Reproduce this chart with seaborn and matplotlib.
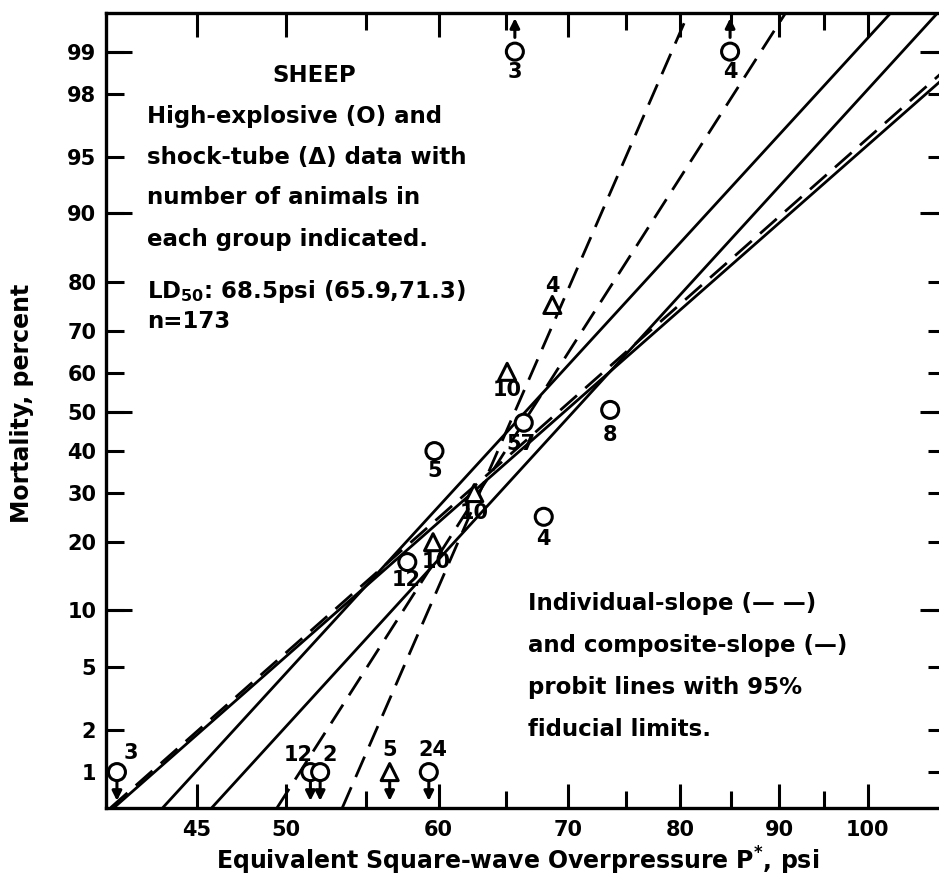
import math
import numpy as np
import pandas as pd
import matplotlib
matplotlib.use('Agg')
import matplotlib.pyplot as plt
import seaborn as sns
from matplotlib.ticker import FixedLocator, NullFormatter

# === Data ===
# high-explosive (circles)
he_psi = [40.9, 51.5, 52.1, 59.3, 65.7, 84.9, 66.4, 59.7, 73.6, 68.0, 57.8]
he_pct = [1, 1, 1, 1, 99, 99, 47.2, 40, 50.5, 24.9, 16.6]
he_n = ['3', '12', '2', '24', '3', '4', '57', '5', '8', '4', '12']

# shock-tube (triangles)
st_psi = [56.6, 65.1, 62.6, 59.6, 68.7]
st_pct = [1, 60.2, 30, 20, 75.5]
st_n = ['5', '10', '10', '10', '4']

# individual-slope probit line and limits (dashed)
ind_a_psi, ind_a_pct = [53.5, 80.8], [0.53, 99.5]
ind_b_psi, ind_b_pct = [49.5, 90.7], [0.53, 99.5]
ind_c_psi, ind_c_pct = [40.6, 109.0], [0.53, 98.53]

# composite-slope probit line and limits (solid)
comp_a_psi, comp_a_pct = [43.2, 102.8], [0.53, 99.5]
comp_b_psi, comp_b_pct = [45.8, 108.7], [0.53, 99.5]
comp_c_psi, comp_c_pct = [40.76, 109.0], [0.53, 98.35]

y_ticks = [1, 2, 5, 10, 20, 30, 40, 50, 60, 70, 80, 90, 95, 98, 99]
y_long = [10, 50, 90, 99]
x_ticks = [45, 50, 60, 70, 80, 90, 100]
x_minor = [55, 65, 75, 85, 95]

# label offsets (points)
he_off = [(10, 14), (-9, 12), (7, 12), (3, 16), (0, -15), (0, -15),
          (-2, -15), (0, -14), (0, -18), (0, -16), (-1, -13)]
st_off = [(0, 16), (0, -13), (0, -14), (2, -14), (0, 14)]


# === probit scale helpers ===
_a = [-3.969683028665376e+01, 2.209460984245205e+02, -2.759285104469687e+02,
      1.383577518672690e+02, -3.066479806614716e+01, 2.506628277459239e+00]
_b = [-5.447609879822406e+01, 1.615858368580409e+02, -1.556989798598866e+02,
      6.680131188771972e+01, -1.328068155288572e+01]
_c = [-7.784894002430293e-03, -3.223964580411365e-01, -2.400758277161838e+00,
      -2.549671010115962e+00, 4.374664141464968e+00, 2.938163982698783e+00]
_d = [7.784695709041462e-03, 3.224671290700398e-01, 2.445134137142996e+00,
      3.754408661907416e+00]


def _ppf1(p):
    p = min(max(p, 1e-12), 1 - 1e-12)
    if p < 0.02425:
        q = math.sqrt(-2 * math.log(p))
        return (((((_c[0]*q+_c[1])*q+_c[2])*q+_c[3])*q+_c[4])*q+_c[5]) / \
               ((((_d[0]*q+_d[1])*q+_d[2])*q+_d[3])*q+1)
    if p > 1 - 0.02425:
        q = math.sqrt(-2 * math.log(1 - p))
        return -(((((_c[0]*q+_c[1])*q+_c[2])*q+_c[3])*q+_c[4])*q+_c[5]) / \
                ((((_d[0]*q+_d[1])*q+_d[2])*q+_d[3])*q+1)
    q = p - 0.5
    r = q * q
    return (((((_a[0]*r+_a[1])*r+_a[2])*r+_a[3])*r+_a[4])*r+_a[5])*q / \
           (((((_b[0]*r+_b[1])*r+_b[2])*r+_b[3])*r+_b[4])*r+1)


_ppf_v = np.vectorize(_ppf1, otypes=[float])
_cdf_v = np.vectorize(lambda z: 50.0 * (1 + math.erf(z / math.sqrt(2))), otypes=[float])


def probit_fwd(pct):
    return _ppf_v(np.asarray(pct, dtype=float) / 100.0)


def probit_inv(z):
    return _cdf_v(np.asarray(z, dtype=float))


# === Figure ===
sns.set_theme(style='ticks')
plt.rcParams['font.family'] = ['DejaVu Sans']
plt.rcParams['mathtext.default'] = 'regular'
plt.rcParams['text.color'] = 'black'

W, H = 939, 882
fig = plt.figure(figsize=(W / 100, H / 100), dpi=100)
ax = fig.add_axes([106 / W, 1 - 808 / H, (946 - 106) / W, (808 - 13) / H])

ax.set_xscale('log')
ax.set_yscale('function', functions=(probit_fwd, probit_inv))
ax.set_xlim(40.37, 109.8)
ax.set_ylim(0.526, 99.50)

lw = 2.0
dash = (8, 4)
for xs, ys in [(ind_a_psi, ind_a_pct), (ind_b_psi, ind_b_pct), (ind_c_psi, ind_c_pct)]:
    sns.lineplot(x=xs, y=ys, ax=ax, color='black', lw=lw, sort=False,
                 estimator=None, dashes=False, linestyle=(0, dash))
for xs, ys in [(comp_a_psi, comp_a_pct), (comp_b_psi, comp_b_pct), (comp_c_psi, comp_c_pct)]:
    sns.lineplot(x=xs, y=ys, ax=ax, color='black', lw=lw, sort=False, estimator=None)

pts = pd.DataFrame({
    'psi': he_psi + st_psi,
    'pct': he_pct + st_pct,
    'n': he_n + st_n,
    'source': ['HE'] * len(he_psi) + ['ST'] * len(st_psi),
})
sns.scatterplot(data=pts, x='psi', y='pct', style='source',
                markers={'HE': 'o', 'ST': '^'}, s=150, facecolor='white',
                edgecolor='black', linewidth=2.2, legend=False, ax=ax, zorder=5)

# numbers of animals
for (x, y, n), off in zip(pts[['psi', 'pct', 'n']].values, he_off + st_off):
    ax.annotate(n, (x, y), xytext=off, textcoords='offset points', color='black',
                ha='center', va='center', fontsize=15, fontweight='bold', zorder=6)

# arrows for 0 % and 100 % groups
for x, y in pts[['psi', 'pct']].values:
    if y <= 1:
        ax.annotate('', xy=(x, 0.60), xytext=(x, 0.86),
                    arrowprops=dict(arrowstyle='-|>', color='black', lw=2.2,
                                    mutation_scale=14, shrinkA=0, shrinkB=0))
    elif y >= 99:
        ax.annotate('', xy=(x, 99.45), xytext=(x, 99.22),
                    arrowprops=dict(arrowstyle='-|>', color='black', lw=2.2,
                                    mutation_scale=14, shrinkA=0, shrinkB=0))

# axes styling
ax.xaxis.set_major_locator(FixedLocator(x_ticks))
ax.xaxis.set_minor_locator(FixedLocator(x_minor))
ax.set_xticklabels([str(t) for t in x_ticks])
ax.xaxis.set_minor_formatter(NullFormatter())
ax.yaxis.set_major_locator(FixedLocator(y_ticks))
ax.yaxis.set_minor_locator(FixedLocator(y_long))
ax.yaxis.remove_overlapping_locs = False
ax.set_yticklabels([str(t) for t in y_ticks])
ax.yaxis.set_minor_formatter(NullFormatter())

ax.tick_params(axis='both', which='both', direction='in', top=True, right=True,
               width=2.2, color='black', labelsize=15, labelcolor='black')
ax.tick_params(axis='x', which='major', length=17, pad=9)
ax.tick_params(axis='x', which='minor', length=12)
ax.tick_params(axis='y', which='major', length=13, pad=7)
ax.tick_params(axis='y', which='minor', length=19)
for lab in ax.get_xticklabels() + ax.get_yticklabels():
    lab.set_fontweight('bold')
for sp in ax.spines.values():
    sp.set_linewidth(2.4)
    sp.set_color('black')
ax.grid(False)

ax.set_xlabel('Equivalent Square-wave Overpressure P$^{*}$, psi',
              fontsize=17, fontweight='bold', color='black')
ax.set_ylabel('Mortality, percent', fontsize=17, fontweight='bold', color='black')
ax.xaxis.set_label_coords(0.49, -0.066)
ax.xaxis.label.set_va('center')
ax.yaxis.set_label_coords(-0.1, 0.509)
ax.yaxis.label.set_va('center')


# annotation text blocks
def ftext(px, py, s, **kw):
    fig.text(px / W, 1 - py / H, s, fontsize=16.5, fontweight='bold', color='black',
             va='baseline', ha='left', **kw)


ftext(272, 82, 'SHEEP')
ftext(147, 123, 'High-explosive (O) and')
ftext(147, 164, 'shock-tube (\u0394) data with')
ftext(147, 204, 'number of animals in')
ftext(147, 246, 'each group indicated.')
ftext(147, 298, 'LD$_{50}$: 68.5psi (65.9,71.3)')
ftext(147, 328, 'n=173')

ftext(528, 610, 'Individual-slope (\u2014 \u2014)')
ftext(528, 652, 'and composite-slope (\u2014)')
ftext(528, 694, 'probit lines with 95%')
ftext(528, 736, 'fiducial limits.')

fig.savefig('out.png', dpi=100)
